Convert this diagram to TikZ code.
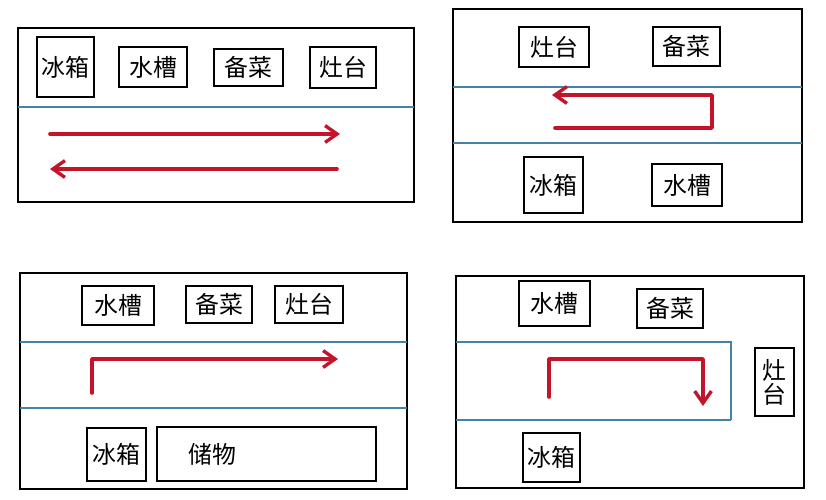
\documentclass[tikz,border=0pt]{standalone}
\usepackage{fontspec}
\newfontfamily\cjk{Noto Sans CJK SC}
\usepackage{tikz}
\usetikzlibrary{arrows.meta,positioning}
\definecolor{flowred}{RGB}{196,20,42}
\definecolor{aisleblue}{RGB}{70,130,165}
\tikzset{
  room/.style={draw=black,line width=1.4pt,inner sep=0pt,font=\cjk\fontsize{17}{20}\selectfont},
  panel/.style={draw=black,line width=1.5pt},
  aisle/.style={draw=aisleblue,line width=0.8pt},
  flow/.style={draw=flowred,line width=2.6pt,line cap=round,line join=round,
    -{Straight Barb[length=0.3cm,width=0.42cm,line width=2.4pt]}}
}

\begin{document}
\begin{tikzpicture}[x=0.025cm,y=-0.025cm]
\useasboundingbox (0,0) rectangle (826,499);
% one wall
\draw[panel] (18,28) rectangle (414,202);
\draw[aisle] (18,107) -- (414,107);
\node (fridge1) [room,minimum width=1.43cm,minimum height=1.5cm] at (65.5,67) {冰箱};
\node (sink1) [room,minimum width=1.7cm,minimum height=1cm] at (153,67) {水槽};
\node (prep1) [room,minimum width=1.73cm,minimum height=0.93cm] at (248.5,67.5) {备菜};
\node (stove1) [room,minimum width=1.65cm,minimum height=1.03cm] at (343,67.5) {灶台};
\coordinate (go1) at (50,134);
\coordinate (to1) at (340,134);
\coordinate (go1b) at (337,169);
\coordinate (to1b) at (50,169);
\draw[flow] (go1) -- (to1);
\draw[flow] (go1b) -- (to1b);
%
% two walls
\draw[panel] (453,9) rectangle (802,222);
\draw[aisle] (453,87) -- (802,87);
\draw[aisle] (453,143) -- (802,143);
\node (stove2) [room,minimum width=1.75cm,minimum height=1cm] at (554,47) {灶台};
\node (prep2) [room,minimum width=1.68cm,minimum height=0.98cm] at (686.5,46.5) {备菜};
\node (fridge2) [room,minimum width=1.48cm,minimum height=1.4cm] at (553.5,185) {冰箱};
\node (sink2) [room,minimum width=1.75cm,minimum height=1.05cm] at (687,185) {水槽};
\coordinate (go2) at (555,128);
\coordinate (to2) at (552,95);
\draw[flow] (go2) -- (712,128) -- (712,95) -- (to2);
%
% L shape
\draw[panel] (20,273) rectangle (407,489);
\draw[aisle] (20,342) -- (407,342);
\draw[aisle] (20,408) -- (407,408);
\node (sink3) [room,minimum width=1.8cm,minimum height=0.98cm] at (118,305.5) {水槽};
\node (prep3) [room,minimum width=1.65cm,minimum height=0.93cm] at (219,304.5) {备菜};
\node (stove3) [room,minimum width=1.7cm,minimum height=0.93cm] at (309,304.5) {灶台};
\node (fridge3) [room,minimum width=1.48cm,minimum height=1.33cm] at (116.5,454.5) {冰箱};
\node (store3) [room,text width=5.48cm,minimum height=1.35cm,align=left] at (266.5,454) {\hspace*{0.8cm}储物};
\coordinate (go3) at (92,393);
\coordinate (to3) at (338,359);
\draw[flow] (go3) -- (92,359) -- (to3);
%
% U shape
\draw[panel] (456,276) rectangle (804,488);
\draw[aisle] (456,342) -- (731,342) -- (731,420);
\draw[aisle,line width=1.6pt] (456,420) -- (731,420);
\node (sink4) [room,minimum width=1.78cm,minimum height=1.13cm] at (554.5,303.5) {水槽};
\node (prep4) [room,minimum width=1.65cm,minimum height=0.98cm] at (670,308.5) {备菜};
\node (stove4) [room,minimum width=0.98cm,minimum height=1.7cm,align=center,
  font=\cjk\fontsize{17}{17}\selectfont] at (774.5,382) {灶\\台};
\node (fridge4) [room,minimum width=1.43cm,minimum height=1.23cm] at (551.5,457.5) {冰箱};
\coordinate (go4) at (549,397);
\coordinate (to4) at (703,406);
\draw[flow] (go4) -- (549,359) -- (703,359) -- (to4);
\end{tikzpicture}
\end{document}
